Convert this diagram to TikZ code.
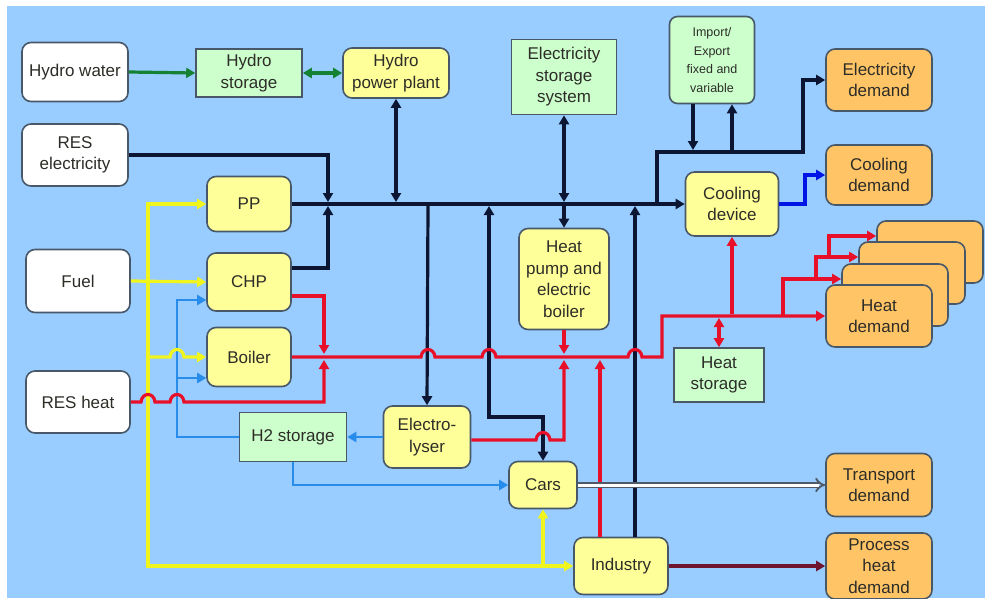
\documentclass[tikz,border=0pt]{standalone}
\usepackage{fontspec}
\setmainfont{Liberation Sans}
\usetikzlibrary{arrows.meta}
\definecolor{skyback}{RGB}{153,204,255}
\definecolor{boxedge}{RGB}{72,88,104}
\definecolor{boxtext}{RGB}{45,45,40}
\definecolor{convfill}{RGB}{255,255,153}
\definecolor{storfill}{RGB}{204,255,204}
\definecolor{demfill}{RGB}{255,196,102}
\definecolor{elline}{RGB}{12,22,50}
\definecolor{heatline}{RGB}{232,16,40}
\definecolor{fuelline}{RGB}{240,245,30}
\definecolor{htwoline}{RGB}{40,140,235}
\definecolor{coolline}{RGB}{0,20,230}
\definecolor{hydline}{RGB}{20,130,50}
\definecolor{procline}{RGB}{110,20,45}
\definecolor{transline}{RGB}{80,90,100}

\tikzset{
  box/.style={draw=boxedge, line width=1.6pt, text=boxtext, align=center, inner sep=1pt,
    font=\fontsize{17}{21.5}\selectfont},
  src/.style={box, fill=white, rounded corners=9pt},
  conv/.style={box, fill=convfill, rounded corners=9pt},
  stor/.style={box, fill=storfill},
  dem/.style={box, fill=demfill, rounded corners=9pt},
  flow/.style={line width=3.2pt, >={Triangle[length=9pt,width=10pt]}},
  elc/.style={flow, draw=elline},
  heatc/.style={flow, draw=heatline},
  fuelc/.style={flow, draw=fuelline},
  htwoc/.style={flow, draw=htwoline, line width=2.8pt},
  coolc/.style={flow, draw=coolline},
  hydc/.style={flow, draw=hydline},
  procc/.style={flow, draw=procline}
}

\begin{document}
\begin{tikzpicture}[x=1pt,y=-1pt]
\useasboundingbox (0,0) rectangle (985,598);
\fill[skyback] (7,6) rectangle (985,598);

% sources
\node[src, minimum width=106pt, minimum height=59pt] (hwater) at (75,72) {Hydro water};
\node[src, minimum width=106pt, minimum height=62pt] (resel) at (75,155) {RES\\electricity};
\node[src, minimum width=104pt, minimum height=63pt] (fuel) at (78,281) {Fuel};
\node[src, minimum width=104pt, minimum height=62pt] (resheat) at (78,402) {RES heat};

% storages
\node[stor, minimum width=106pt, minimum height=48pt] (hstor) at (249,73) {Hydro\\storage};
\node[stor, minimum width=105pt, minimum height=75pt] (elstor) at (564,77) {Electricity\\storage\\system};
\node[stor, rounded corners=8pt, minimum width=85pt, minimum height=87pt,
  font=\fontsize{12.5}{18.5}\selectfont] (impexp) at (712,60) {Import/\\Export\\fixed and\\variable};
\node[stor, minimum width=90pt, minimum height=54pt] (hstorage) at (719,375) {Heat\\storage};
\node[stor, minimum width=107pt, minimum height=49pt] (htwostor) at (293,437) {H2 storage};

% conversion units
\node[conv, minimum width=106pt, minimum height=50pt] (hpp) at (396,73) {Hydro\\power plant};
\node[conv, minimum width=84pt, minimum height=55pt] (pp) at (249,204) {PP};
\node[conv, minimum width=84pt, minimum height=58pt] (chp) at (249,282) {CHP};
\node[conv, minimum width=84pt, minimum height=59pt] (boiler) at (249,357) {Boiler};
\node[conv, minimum width=90pt, minimum height=101pt] (hpump) at (564,279) {Heat\\pump and\\electric\\boiler};
\node[conv, minimum width=93pt, minimum height=64pt] (cooldev) at (732,204) {Cooling\\device};
\node[conv, minimum width=87pt, minimum height=62pt] (elys) at (427,437) {Electro-\\lyser};
\node[conv, minimum width=68pt, minimum height=47pt] (cars) at (543,485) {Cars};
\node[conv, minimum width=94pt, minimum height=57pt] (industry) at (621,566) {Industry};

% demands
\node[dem, minimum width=106pt, minimum height=62pt] (eldem) at (879,80) {Electricity\\demand};
\node[dem, minimum width=106pt, minimum height=60pt] (cooldem) at (879,175) {Cooling\\demand};
\foreach \k/\dx/\dy in {4/51/64, 3/33/43, 2/16/21}
  \node[dem, minimum width=106pt, minimum height=62pt] (heatdem\k) at (879+\dx,316-\dy) {};
\node[dem, minimum width=106pt, minimum height=62pt] (heatdem) at (879,316) {Heat\\demand};
\node[dem, minimum width=106pt, minimum height=63pt] (transdem) at (879,485) {Transport\\demand};
\node[dem, minimum width=106pt, minimum height=66pt] (procdem) at (879,566) {Process\\heat\\demand};

% hydro
\draw[hydc,->] (hwater.east) -- (hstor.west);
\draw[hydc,<->] (hstor.east) -- (hpp.west);

% electricity
\draw[elc,->] (pp.east) -- (cooldev.west);
\draw[elc,->] (resel.east) -| (328,202);
\draw[elc,->] ([yshift=14pt]chp.east) -| (328,206);
\draw[elc,<->] (hpp.south) -- (396,202);
\draw[elc,<->] (elstor.south) -- (564,202);
\draw[elc,->] (564,206) -- (hpump.north);
\draw[elc,->] (428,206) -- (elys.north);
\draw[elc,<->] (489,206) -- (489,417) -| (cars.north);
\draw[elc,->] ([xshift=14pt]industry.north) -- (635,206);
\draw[elc,->] (657,204) |- (803,152) |- (eldem.west);
\draw[elc,->] ([xshift=-19pt]impexp.south) -- (693,150);
\draw[elc,->] (732,150.5) -- ([xshift=20pt]impexp.south);

% cooling
\draw[coolc,->] (cooldev.east) -- (805,204) |- (cooldem.west);

% fuel
\draw[fuelc,->] (fuel.east) -- (chp.west);
\draw[fuelc,->] (148,281) |- (pp.west);
\draw[fuelc,->] (148,281) -- (148,566) -- (industry.west);
\draw[fuelc,->] (543,566) -- (cars.south);

% hydrogen
\draw[htwoc,->] (elys.west) -- (htwostor.east);
\draw[htwoc,->] (htwostor.west) -| (177,300) -- ([yshift=-18pt]chp.west);
\draw[htwoc,->] (177,378) -- ([yshift=-21pt]boiler.west);
\draw[htwoc,->] (htwostor.south) |- (cars.west);
\draw[fuelc,->] (148,357) -- (170,357) .. controls (171,347) and (183,347) .. (184,357) -- (boiler.west);

% heat
\draw[heatc,->] (boiler.east) -- (421,357) .. controls (422,347) and (434,347) .. (435,357)
  -- (482,357) .. controls (483,347) and (495,347) .. (496,357)
  -- (628,357) .. controls (629,347) and (641,347) .. (642,357)
  -- (662,357) -- (662,316) -- (heatdem.west);
\draw[heatc,->] ([yshift=-14pt]chp.east) -| (324,354);
\draw[heatc,->] (resheat.east) -- (141,402) .. controls (142,392) and (154,392) .. (155,402)
  -- (170,402) .. controls (171,392) and (183,392) .. (184,402) -- (324,402) -- (324,360);
\draw[heatc,->] (hpump.south) -- (564,354);
\draw[heatc,->] ([yshift=-3pt]elys.east) -- (536,440) .. controls (537,430) and (549,430) .. (550,440)
  -- (564,440) -- (564,360);
\draw[heatc,->] ([xshift=-21pt]industry.north) -- (600,360);
\draw[heatc,->] (732,314) -- (cooldev.south);
\draw[heatc,<->] (719,318) -- (hstorage.north);
\draw[heatc,->] (783,316) |- ([yshift=16pt]heatdem2.west);
\draw[heatc,->] (816,279) |- ([yshift=16pt]heatdem3.west);
\draw[heatc,->] (829,256) |- ([yshift=16pt]heatdem4.west);

% transport and process heat
\draw[double=white, double distance=3pt, line width=1.8pt, draw=transline,
  -{Implies[length=7pt]}] (cars.east) -- (transdem.west);
\draw[procc,->] (industry.east) -- (procdem.west);
\end{tikzpicture}
\end{document}
